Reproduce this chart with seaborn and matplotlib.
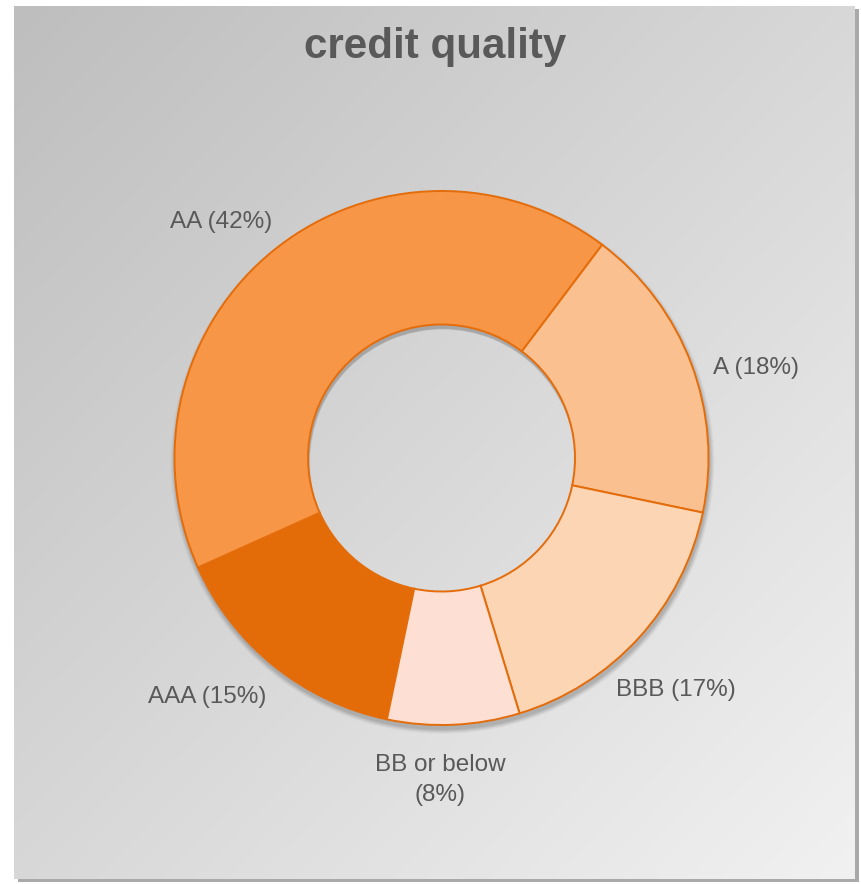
import numpy as np
import matplotlib
matplotlib.use("Agg")
import matplotlib.pyplot as plt
from matplotlib.patches import Rectangle, Wedge
import seaborn as sns

# ---- data ----
categories = ["AAA", "AA", "A", "BBB", "BB or below"]
shares = [15, 42, 18, 17, 8]
label_texts = ["AAA (15%)", "AA (42%)", "A (18%)", "BBB (17%)", "BB or below\n(8%)"]
slice_colors = ["#E36C09", "#F79646", "#FAC090", "#FCD5B4", "#FDDFD3"]
title_text = "credit quality"

sns.set_theme(style="white")
plt.rcParams["font.family"] = ["Liberation Sans", "DejaVu Sans"]

W, H = 862, 884
fig = plt.figure(figsize=(W / 100, H / 100), dpi=100)
fig.patch.set_facecolor("white")
ax = fig.add_axes([0, 0, 1, 1])


def py(y):
    return H - y


# panel shadow + gradient panel
px0, px1, py0, py1 = 14, 855, 6, 879
ax.add_patch(Rectangle((px0 + 4, py(py1 + 3)), px1 - px0, py1 - py0,
                       facecolor="#A9A9A9", edgecolor="none", zorder=0))
nx, ny = 200, 200
gx, gy = np.meshgrid(np.linspace(0, 1, nx), np.linspace(0, 1, ny))
t = (gx + gy) / 2
vals = (190 + t * (241 - 190)) / 255.0
img = np.dstack([vals, vals, vals])
ax.imshow(img, extent=(px0, px1, py(py1), py(py0)), origin="upper",
          aspect="auto", zorder=1, interpolation="bilinear")

cx, cy, R = 441.5, py(458), 267
# soft donut shadow
for k, a in zip(range(6, 0, -1), [0.04, 0.05, 0.06, 0.07, 0.08, 0.09]):
    ax.add_patch(Wedge((cx + 1, cy - 4), R + k * 0.8, 0, 360, width=R / 2 + k,
                       facecolor="#505050", edgecolor="none", alpha=a, zorder=2))

wedges, _ = ax.pie(shares, colors=slice_colors, startangle=-101.8,
                   counterclock=False, center=(cx, cy), radius=R,
                   wedgeprops=dict(width=R / 2, edgecolor="#E46C0A",
                                   linewidth=1.4, zorder=3))
for w in wedges:
    w.set_zorder(3)

label_pos = [(207, 697), (221, 222), (756, 368), (676, 690), (440, 780)]
for txt, (lx, ly) in zip(label_texts, label_pos):
    ax.text(lx, py(ly), txt, ha="center", va="center", fontsize=17.5,
            color="#595959", linespacing=1.42, zorder=5)

ax.text(435, py(47), title_text, ha="center", va="center", fontsize=30.3,
        fontweight="bold", color="#595959", zorder=5)

ax.set_xlim(0, W)
ax.set_ylim(0, H)
ax.set_aspect("auto")
ax.axis("off")

fig.savefig("out.png", dpi=100, facecolor="white")
